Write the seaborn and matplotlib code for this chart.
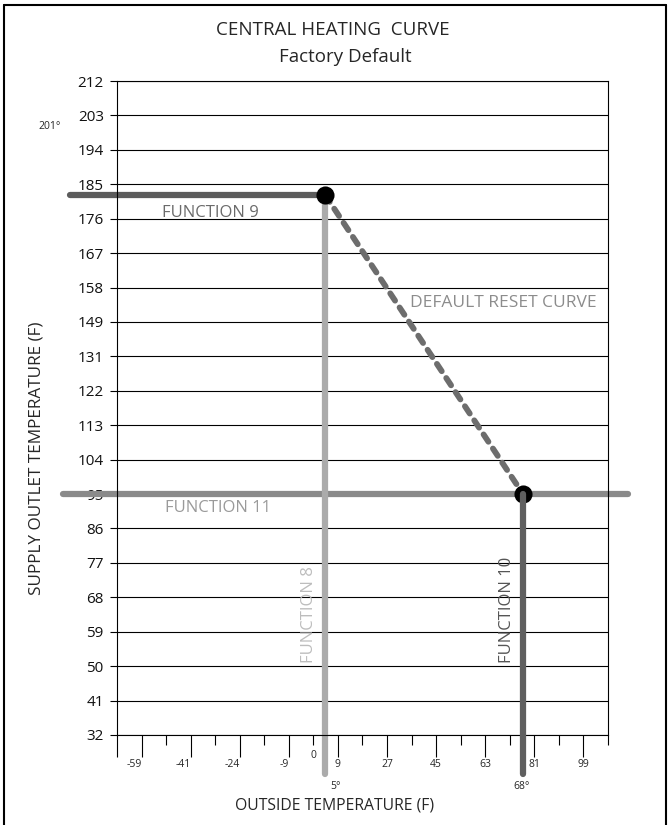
import pandas as pd
import seaborn as sns
import matplotlib.pyplot as plt
from matplotlib.lines import Line2D
from matplotlib.ticker import FixedLocator, FixedFormatter

# Chart grid: x positions are tick slots, y positions are the row index of each label
y_labels = [32, 41, 50, 59, 68, 77, 86, 95, 104, 113, 122, 131, 149, 158, 167, 176, 185, 194, 203, 212]
x_major_pos = [0, 1, 3, 5, 7, 9, 11, 13, 15, 17, 19]
x_major_labels = ['', '-59', '-41', '-24', '-9', '9', '27', '45', '63', '81', '99']
x_minor_pos = [2, 4, 6, 8, 10, 12, 14, 16, 18, 20]
x_minor_labels = ['', '', '', '0', '', '', '', '', '', '']

# Curve lines (grid units)
f9_x = [-1.9, 8.47]
f9_y = [15.7, 15.7]
f8_x = [8.47, 8.47]
f8_y = [15.7, -1.13]
f11_x = [-2.2, 20.8]
f11_y = [7.0, 7.0]
f10_x = [16.54, 16.54]
f10_y = [7.0, -1.13]
reset_x = [8.47, 16.54]
reset_y = [15.7, 7.0]
dots_x = [8.47, 16.54]
dots_y = [15.7, 7.0]

sns.set_style("white")
plt.rcParams['font.family'] = ['Open Sans', 'DejaVu Sans']

fig = plt.figure(figsize=(6.7, 8.25), dpi=100)
ax = fig.add_axes([0.1746, 0.1091, 0.7328, 0.7927])

# grid / axes
ax.set_xlim(0, 20)
ax.set_ylim(0, 19)
ax.set_yticks(range(len(y_labels)))
ax.set_yticklabels([str(v) for v in y_labels])
ax.yaxis.grid(True, color='black', lw=0.8)
ax.xaxis.grid(False)
ax.xaxis.set_major_locator(FixedLocator(x_major_pos))
ax.xaxis.set_major_formatter(FixedFormatter(x_major_labels))
ax.xaxis.set_minor_locator(FixedLocator(x_minor_pos))
ax.xaxis.set_minor_formatter(FixedFormatter(x_minor_labels))
ax.tick_params(axis='x', which='major', length=16, width=0.8, color='black',
               pad=1, labelsize=7.5, direction='out', bottom=True)
ax.tick_params(axis='x', which='minor', length=7.5, width=0.8, color='black',
               pad=3, labelsize=7.5, direction='out', bottom=True)
ax.tick_params(axis='y', length=5, width=0.8, color='black', pad=4.5,
               labelsize=11, direction='out', left=True, labelcolor='#111111')
for lab in ax.get_xticklabels():
    if lab.get_text().startswith('-'):
        lab.set_ha('right')
for sp in ax.spines.values():
    sp.set_color('black')
    sp.set_linewidth(0.8)

# lines
line_kw = dict(estimator=None, sort=False, clip_on=False, solid_capstyle='round', legend=False)
sns.lineplot(x=f11_x, y=f11_y, color='#8a8a8a', lw=4.5, ax=ax, **line_kw)
sns.lineplot(x=f9_x, y=f9_y, color='#5c5c5c', lw=4.5, ax=ax, **line_kw)
sns.lineplot(x=f8_x, y=f8_y, color='#ababab', lw=4.5, ax=ax, **line_kw)
sns.lineplot(x=reset_x, y=reset_y, color='#6d6d6d', lw=4.2, ax=ax,
             estimator=None, sort=False, linestyle=(0, (1.5, 1.4)),
             dash_capstyle='round', legend=False)
sns.scatterplot(x=dots_x, y=dots_y, color='black', s=170, ax=ax, zorder=5,
                clip_on=False, linewidth=0, legend=False)
sns.lineplot(x=f10_x, y=f10_y, color='#5f5f5f', lw=4.5, ax=ax, zorder=6, **line_kw)

# annotations
lab_kw = dict(fontsize=12, ha='center', va='center')
ax.text(3.79, 15.17, 'FUNCTION 9', color='#6b6b6b', **lab_kw)
ax.text(15.75, 12.56, 'DEFAULT RESET CURVE', color='#8c8c8c', fontsize=12.5, ha='center', va='center')
ax.text(4.1, 6.6, 'FUNCTION 11', color='#9a9a9a', **lab_kw)
ax.text(7.82, 3.49, 'FUNCTION 8', color='#bdbdbd', rotation=90, **lab_kw)
ax.text(15.9, 3.63, 'FUNCTION 10', color='#555555', rotation=90, **lab_kw)
ax.text(8.92, -1.51, '5°', fontsize=7.5, ha='center', va='center', clip_on=False)
ax.text(16.5, -1.51, '68°', fontsize=7.5, ha='center', va='center', clip_on=False)
ax.text(-2.73, 17.67, '201°', fontsize=7.5, ha='center', va='center', clip_on=False)

fig.text(0.496, 0.9636, 'CENTRAL HEATING  CURVE', fontsize=13.5, ha='center', va='center')
fig.text(0.515, 0.931, 'Factory Default', fontsize=13.5, ha='center', va='center')
fig.text(0.5, 0.0242, 'OUTSIDE TEMPERATURE (F)', fontsize=11.3, ha='center', va='center')
fig.text(0.055, 0.445, 'SUPPLY OUTLET TEMPERATURE (F)', fontsize=12.3, ha='center', va='center', rotation=90)

# outer frame
for xs, ys in [([0.006, 0.006], [0, 0.994]), ([0.006, 0.994], [0.994, 0.994]), ([0.994, 0.994], [0, 0.994])]:
    fig.add_artist(Line2D(xs, ys, color='black', lw=1.5, transform=fig.transFigure))

fig.savefig('out.png', dpi=100)
